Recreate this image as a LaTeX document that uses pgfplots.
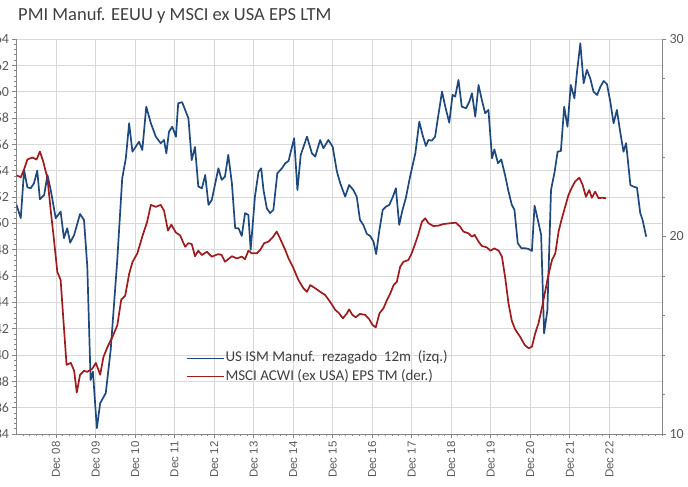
\documentclass[border=0pt]{standalone}
\usepackage{pgfplots}
\usepackage{pgfplotstable}
\pgfplotsset{compat=1.18}
\usepackage{fontspec}
\setmainfont{Carlito}
\newfontfamily\xfont{Liberation Sans}
\definecolor{blueline}{RGB}{31,73,125}
\definecolor{redline}{RGB}{158,27,30}
\definecolor{gridc}{RGB}{217,217,217}
\definecolor{axisc}{RGB}{134,134,134}
\definecolor{textc}{RGB}{89,89,89}
\definecolor{titlec}{RGB}{64,64,64}

\pgfplotstableread{
m v
0 51.4
1.3 50.4
2.3 54.05
3.3 52.74
4.3 52.66
5.3 53.04
6.3 54.0
7.1 51.83
8.4 52.15
9.4 53.67
10.4 52.53
11.9 50.39
13.4 50.89
14.4 48.87
15.4 49.63
16.3 48.53
17.5 49.12
19.3 50.71
20.5 50.25
21.5 46.71
22.5 38.1
23.2 38.74
24.4 34.44
25.4 36.34
27.1 37.1
28.6 40.39
30.6 47.22
32.1 53.42
33.2 54.94
34.2 57.6
35.2 55.44
37.2 56.2
38.2 55.57
39.4 58.86
40.8 57.6
42.3 56.58
43.8 56.08
44.8 56.33
45.5 55.32
46.3 56.96
47.3 57.34
48.4 56.58
49.1 59.12
50.3 59.2
52.2 57.98
53.2 54.8
54.2 55.8
55.2 52.8
56.3 52.66
57.3 53.67
58.3 51.4
59.3 51.78
61.3 54.18
62.3 53.3
63.3 53.55
64.3 55.2
65.4 53.04
66.4 49.63
67.4 49.63
68.4 49.04
69.4 50.77
70.4 50.64
71.1 47.98
72.4 52.03
73.5 53.92
74.3 54.18
75.0 52.53
76.0 51.14
77.0 50.77
78.0 51.02
79.2 53.8
80.6 54.18
81.6 54.56
82.6 54.74
84.3 56.46
85.3 52.53
86.3 55.19
88.2 56.58
89.7 55.32
90.7 55.06
92.2 56.33
93.2 55.7
94.7 56.33
96.0 55.82
97.3 53.92
98.3 53.04
99.8 52.03
101.0 52.91
102.3 52.53
103.3 52.03
104.3 50.26
105.3 49.88
106.4 49.19
107.4 49.04
108.4 48.61
109.2 47.67
110.2 49.5
111.2 51.02
112.2 51.27
113.2 51.4
114.3 52.03
115.2 52.66
116.2 49.88
117.2 51.02
118.2 51.9
119.5 53.54
121.1 55.32
122.3 57.72
123.3 56.71
124.3 55.88
125.1 56.33
126.1 56.28
127.1 56.58
128.1 58.23
129.2 60.0
130.2 58.86
131.4 57.64
132.4 59.75
133.2 59.62
134.2 60.89
135.2 58.86
136.5 58.74
137.5 59.24
138.3 59.88
139.3 58.1
140.3 60.5
141.3 59.37
142.3 58.36
143.3 58.61
144.4 54.94
145.1 55.62
146.2 54.56
147.2 54.86
148.4 53.6
149.4 52.41
150.4 51.4
151.2 51.02
152.2 48.49
153.3 48.11
154.5 48.11
155.5 48.05
156.5 47.9
157.3 51.34
158.3 50.26
159.3 49.12
160.2 41.65
161.2 43.42
162.3 52.53
163.4 53.92
164.3 55.44
165.3 55.5
166.3 58.86
167.3 57.34
168.3 60.51
169.4 59.5
170.2 61.52
171.2 63.67
172.2 60.64
173.2 61.65
174.2 61.02
175.2 60.0
176.3 59.75
177.3 60.38
178.3 60.81
179.3 60.56
180.3 59.24
181.3 57.6
182.3 58.61
183.3 56.96
184.3 55.44
185.1 56.08
186.4 52.91
187.4 52.78
188.4 52.71
189.4 50.77
190.1 50.26
191.2 48.99
}\ismdata

\pgfplotstableread{
m v
0 23.1
1.3 23.0
2.3 23.4
3.3 23.9
4.8 24.0
6.1 23.9
7.1 24.3
8.1 23.8
9.4 22.95
10.4 21.3
11.4 19.8
12.4 18.2
13.4 17.8
14.4 15.4
15.2 13.5
16.5 13.6
17.5 13.2
18.3 12.1
19.3 13.0
20.5 13.2
21.5 13.15
23.0 13.3
24.1 13.6
25.4 13.0
26.4 13.9
27.6 14.4
29.1 14.9
30.6 15.5
31.8 16.8
33.0 17.0
34.2 18.1
35.2 18.7
36.7 19.15
38.2 20.0
39.6 20.7
40.8 21.6
42.3 21.5
43.8 21.6
44.8 21.3
46.0 20.3
47.0 20.6
48.4 20.2
49.7 20.05
51.2 19.48
52.2 19.66
53.2 19.62
54.2 19.0
55.2 19.28
56.3 19.06
57.8 19.23
59.3 18.98
61.3 19.11
62.3 19.06
63.3 18.72
65.4 19.0
66.9 18.89
68.4 18.98
69.4 18.85
70.4 19.28
71.4 19.15
73.0 19.15
74.0 19.32
75.2 19.66
76.5 19.74
77.8 19.96
79.0 20.25
80.0 19.91
81.6 19.32
82.6 18.89
84.1 18.39
85.6 17.8
87.1 17.38
88.2 17.2
89.2 17.54
90.7 17.38
92.2 17.2
93.7 17.04
95.2 16.7
96.8 16.28
97.8 16.14
99.1 15.86
100.3 16.1
101.0 16.31
102.0 16.03
103.0 15.91
104.3 16.08
105.9 16.03
107.1 15.81
108.1 15.52
109.1 15.4
110.2 16.11
111.4 16.36
112.5 16.78
113.5 17.12
114.5 17.54
115.5 17.71
116.5 18.47
117.5 18.72
119.0 18.81
120.0 19.15
121.1 19.66
122.1 20.16
123.1 20.75
124.1 20.92
125.1 20.67
126.6 20.53
128.1 20.55
129.6 20.63
131.7 20.67
133.4 20.7
134.7 20.5
135.7 20.25
137.2 20.16
138.3 19.99
139.1 20.08
140.3 19.74
141.3 19.52
142.8 19.45
143.9 19.28
145.1 19.4
146.4 19.28
147.4 18.98
148.4 17.9
149.4 16.6
150.4 15.73
151.4 15.3
152.9 14.93
154.3 14.51
155.5 14.34
156.5 14.42
157.5 15.1
158.5 15.61
159.5 16.36
160.5 17.2
161.5 18.05
162.6 18.81
163.6 19.15
164.6 20.25
165.6 20.92
166.6 21.51
167.6 22.1
168.6 22.47
169.6 22.78
170.9 22.98
171.9 22.61
172.9 22.01
173.9 22.35
174.7 21.96
175.7 22.27
176.7 21.94
177.8 21.96
179.0 21.94
}\epsdata

\begin{document}
\begin{tikzpicture}[x=1pt,y=1pt]
\useasboundingbox (0,0) rectangle (688,487);
\node[anchor=base west, inner sep=0, text=titlec, font=\fontsize{18.5}{21}\selectfont] at (18,466) {PMI Manuf. EEUU y MSCI ex USA EPS LTM};

\begin{axis}[
  at={(16.5pt,53pt)}, anchor=south west, scale only axis,
  width=645.5pt, height=395pt,
  xmin=0, xmax=196, ymin=34, ymax=64,
  axis x line*=bottom, axis y line*=left,
  axis line style={draw=axisc, line width=0.9pt, -},
  xtick={12,24,...,180},
  xticklabels={Dec 08,Dec 09,Dec 10,Dec 11,Dec 12,Dec 13,Dec 14,Dec 15,Dec 16,Dec 17,Dec 18,Dec 19,Dec 20,Dec 21,Dec 22},
  minor xtick={2,4,...,196},
  ytick={34,36,...,64},
  minor y tick num=4,
  tick align=outside,
  major tick length=4pt, minor tick length=2.5pt,
  tick style={draw=axisc, line width=0.7pt},
  xmajorgrids, ymajorgrids,
  major grid style={draw=gridc, line width=0.8pt},
  /pgf/number format/assume math mode=true,
  yticklabel style={font=\fontsize{14}{16}\selectfont, text=textc},
  xticklabel style={rotate=90, anchor=east, font=\xfont\fontsize{11.5}{13}\selectfont, text=textc},
]
\addplot[blueline, line width=1.7pt, line join=round] table {\ismdata};
\end{axis}

\begin{axis}[
  at={(16.5pt,53pt)}, anchor=south west, scale only axis,
  width=645.5pt, height=395pt,
  xmin=0, xmax=196, ymin=10, ymax=30,
  axis x line=none, axis y line*=right,
  axis line style={draw=axisc, line width=0.9pt, -},
  ytick={10,20,30},
  minor ytick={12,14,16,18,22,24,26,28},
  tick align=outside,
  major tick length=4pt, minor tick length=3pt,
  tick style={draw=axisc, line width=0.7pt},
  /pgf/number format/assume math mode=true,
  yticklabel style={font=\fontsize{14}{16}\selectfont, text=textc},
  legend style={at={(0.2626,0.214)}, anchor=north west, draw=none, fill=none,
    inner sep=0pt, font=\fontsize{15}{18}\selectfont, text=titlec, row sep=1.6pt,
    nodes={inner sep=1pt, text height=11pt, text depth=4pt}},
  legend cell align=left,
  legend image code/.code={\draw[#1, line width=1.3pt] (0pt,0pt) -- (37pt,0pt);},
]
\addlegendimage{blueline}
\addlegendentry{US ISM Manuf.\ \ rezagado\ \ 12m\ \ (izq.)}
\addplot[redline, line width=1.7pt, line join=round] table {\epsdata};
\addlegendentry{MSCI ACWI (ex USA) EPS TM (der.)}
\end{axis}
\end{tikzpicture}
\end{document}
